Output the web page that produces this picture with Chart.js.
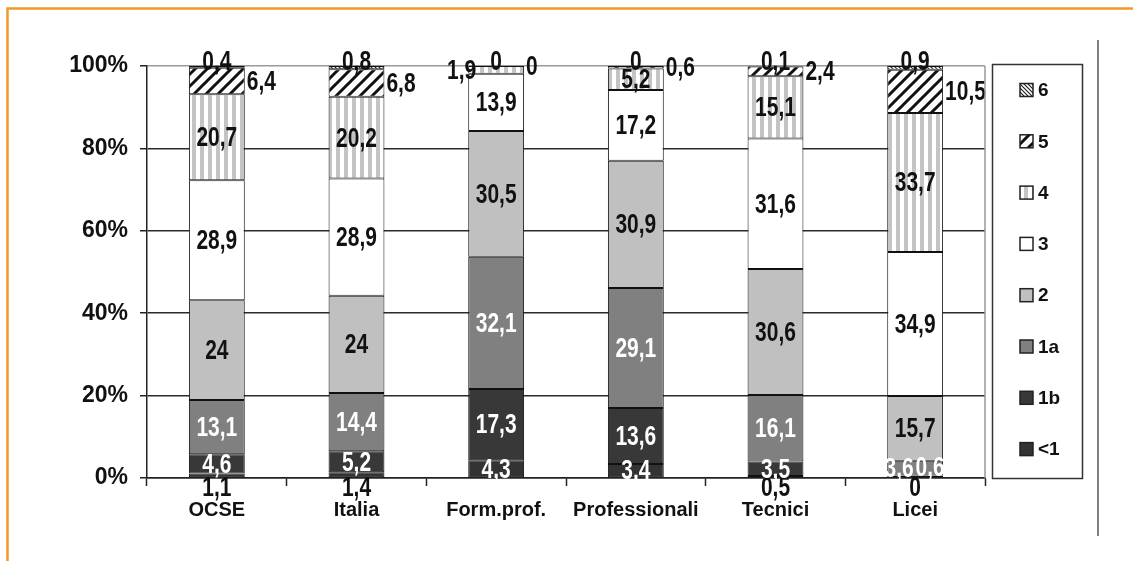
<!DOCTYPE html>
<html>
<head>
<meta charset="utf-8">
<script src="https://cdn.jsdelivr.net/npm/chart.js@4.4.1/dist/chart.umd.min.js"></script>
<style>
  html, body { margin: 0; padding: 0; background: #fff; }
  canvas { display: block; }
</style>
</head>
<body>
<canvas id="levelsChart" width="1133" height="561"></canvas>
<script>
/* ============================================================
   Livelli di competenza per tipo di scuola – barre 100%
   ============================================================ */

const categories = ['OCSE', 'Italia', 'Form.prof.', 'Professionali', 'Tecnici', 'Licei'];
const levelNames = ['<1', '1b', '1a', '2', '3', '4', '5', '6'];

const levelBelow1 = [1.1, 1.4, 4.3, 3.4, 0.5, 0];
const level1b = [4.6, 5.2, 17.3, 13.6, 3.5, 0.6];
const level1a = [13.1, 14.4, 32.1, 29.1, 16.1, 3.6];
const level2 = [24, 24, 30.5, 30.9, 30.6, 15.7];
const level3 = [28.9, 28.9, 13.9, 17.2, 31.6, 34.9];
const level4 = [20.7, 20.2, 1.9, 5.2, 15.1, 33.7];
const level5 = [6.4, 6.8, 0, 0.6, 2.4, 10.5];
const level6 = [0.4, 0.8, 0, 0, 0.1, 0.9];

const yTickValues = [0, 20, 40, 60, 80, 100];

const seriesValues = [levelBelow1, level1b, level1a, level2, level3, level4, level5, level6];

// ── fill patterns ──
function makePattern(size, draw) {
    const c = document.createElement('canvas');
    c.width = size; c.height = size;
    const g = c.getContext('2d');
    g.fillStyle = '#fff';
    g.fillRect(0, 0, size, size);
    draw(g, size);
    return document.getElementById('levelsChart').getContext('2d').createPattern(c, 'repeat');
}

const stripes = makePattern(8, (g) => {
    g.fillStyle = '#c4c4c4';
    g.fillRect(0, 0, 4, 8);
});

const hatch = makePattern(12, (g, s) => {
    g.strokeStyle = '#111';
    g.lineWidth = 3;
    g.beginPath();
    g.moveTo(-3, 3); g.lineTo(3, -3);
    g.moveTo(0, s); g.lineTo(s, 0);
    g.moveTo(s - 3, s + 3); g.lineTo(s + 3, s - 3);
    g.stroke();
});

const fineHatch = makePattern(4, (g, s) => {
    g.strokeStyle = '#222';
    g.lineWidth = 1.2;
    g.beginPath();
    g.moveTo(-1, -1); g.lineTo(s + 1, s + 1);
    g.moveTo(-1, s - 1); g.lineTo(1, s + 1);
    g.moveTo(s - 1, -1); g.lineTo(s + 1, 1);
    g.stroke();
});

const fills = ['#333333', '#383838', '#808080', '#c0c0c0', '#ffffff', stripes, hatch, fineHatch];
const labelColors = ['#fff', '#fff', '#fff', '#111', '#111', '#111', '#111', '#111'];

// 100% stacked: each column is scaled by its own total
const totals = categories.map((_, i) => seriesValues.reduce((s, arr) => s + arr[i], 0));

const datasets = levelNames.map((name, k) => ({
    label: name,
    data: seriesValues[k].map((v, i) => v / totals[i] * 100),
    raw: seriesValues[k],
    backgroundColor: fills[k],
    borderColor: '#111',
    borderWidth: 1,
    borderSkipped: false,
    categoryPercentage: 1,
    barPercentage: 0.4
}));

const fmt = v => String(v).replace('.', ',');
const LABEL_FONT = 'bold 21px "Liberation Sans", Arial, sans-serif';

function drawLabel(ctx, text, x, y, align, color) {
    ctx.save();
    ctx.translate(x, y);
    ctx.scale(1, 1.3);
    ctx.font = LABEL_FONT;
    ctx.textAlign = align;
    ctx.textBaseline = 'middle';
    ctx.fillStyle = color;
    ctx.fillText(text, 0, 1);
    ctx.restore();
}

// ── value labels, Excel-style placement ──
const valueLabels = {
    id: 'valueLabels',
    afterDatasetsDraw(chart) {
        const ctx = chart.ctx;
        const axisY = chart.chartArea.bottom;
        chart.data.datasets.forEach((ds, k) => {
            chart.getDatasetMeta(k).data.forEach((el, i) => {
                const v = ds.raw[i];
                const txt = fmt(v);
                const mid = (el.y + el.base) / 2;
                const half = el.width / 2;
                const name = ds.label;
                if (name === '<1') {
                    if (v < 2) drawLabel(ctx, txt, el.x, axisY + 9, 'center', '#111');
                    else drawLabel(ctx, txt, el.x, mid, 'center', '#fff');
                } else if (name === '1b' && v < 1) {
                    drawLabel(ctx, txt, el.x + 15, el.y - 8, 'center', '#fff');
                } else if (name === '1a' && v < 5) {
                    drawLabel(ctx, txt, el.x - 16, mid, 'center', '#fff');
                } else if (name === '4' && v < 3) {
                    drawLabel(ctx, txt, el.x - half + 8, mid, 'right', '#111');
                } else if (name === '5') {
                    drawLabel(ctx, txt, el.x + half + 2, mid, 'left', '#111');
                } else if (name === '6') {
                    drawLabel(ctx, txt, el.x, el.y - 5, 'center', '#111');
                } else {
                    drawLabel(ctx, txt, el.x, mid, 'center', labelColors[k]);
                }
            });
        });
    }
};

// ── frame, plot border and boxed legend ──
const frameAndLegend = {
    id: 'frameAndLegend',
    afterDraw(chart) {
        const ctx = chart.ctx;
        const a = chart.chartArea;
        ctx.save();

        // plot area right edge
        ctx.strokeStyle = '#9a9a9a';
        ctx.lineWidth = 1.5;
        ctx.beginPath();
        ctx.moveTo(a.right, a.top);
        ctx.lineTo(a.right, a.bottom);
        ctx.stroke();

        // orange page frame
        ctx.strokeStyle = '#f4962a';
        ctx.lineWidth = 2.5;
        ctx.beginPath();
        ctx.moveTo(1133, 8.5);
        ctx.lineTo(7.5, 8.5);
        ctx.lineTo(7.5, 561);
        ctx.stroke();

        // separator on the right
        ctx.strokeStyle = '#555';
        ctx.lineWidth = 1.5;
        ctx.beginPath();
        ctx.moveTo(1098, 40);
        ctx.lineTo(1098, 536);
        ctx.stroke();

        // legend box
        ctx.strokeStyle = '#333';
        ctx.lineWidth = 1.5;
        ctx.strokeRect(992.5, 64.5, 90, 414);

        const items = chart.data.datasets.slice().reverse();
        items.forEach((ds, j) => {
            const cy = 90 + j * 51.3;
            ctx.fillStyle = ds.backgroundColor;
            ctx.fillRect(1020, cy - 6.5, 13, 13);
            ctx.strokeStyle = '#222';
            ctx.lineWidth = 1.5;
            ctx.strokeRect(1020, cy - 6.5, 13, 13);
            ctx.fillStyle = '#111';
            ctx.font = 'bold 19px "Liberation Sans", Arial, sans-serif';
            ctx.textAlign = 'left';
            ctx.textBaseline = 'middle';
            ctx.fillText(ds.label, 1038, cy + 1);
        });
        ctx.restore();
    }
};

new Chart(document.getElementById('levelsChart').getContext('2d'), {
    type: 'bar',
    data: { labels: categories, datasets },
    options: {
        responsive: false,
        animation: false,
        layout: { padding: { top: 66, right: 148, left: 0, bottom: 0 } },
        plugins: { legend: { display: false }, tooltip: { enabled: false } },
        scales: {
            x: {
                stacked: true,
                afterFit: s => { s.height = 83; },
                grid: { display: true, drawOnChartArea: false, offset: true, tickLength: 8, tickColor: '#222', tickWidth: 1.5 },
                border: { color: '#222', width: 1.5 },
                ticks: { color: '#111', padding: 12, font: { family: '"Liberation Sans", Arial, sans-serif', size: 20, weight: 'bold' } }
            },
            y: {
                stacked: true,
                min: 0, max: 100,
                afterFit: s => { s.width = 147; },
                afterBuildTicks: s => { s.ticks = yTickValues.map(v => ({ value: v })); },
                grid: {
                    color: c => c.tick && c.tick.value === 100 ? '#9a9a9a' : '#2a2a2a',
                    lineWidth: 1.5, tickLength: 7,
                    tickColor: '#222'
                },
                border: { color: '#222', width: 1.5 },
                ticks: {
                    color: '#111', padding: 12,
                    callback: v => v + '%',
                    font: { family: '"Liberation Sans", Arial, sans-serif', size: 23, weight: 'bold' }
                }
            }
        }
    },
    plugins: [valueLabels, frameAndLegend]
});
</script>
</body>
</html>
